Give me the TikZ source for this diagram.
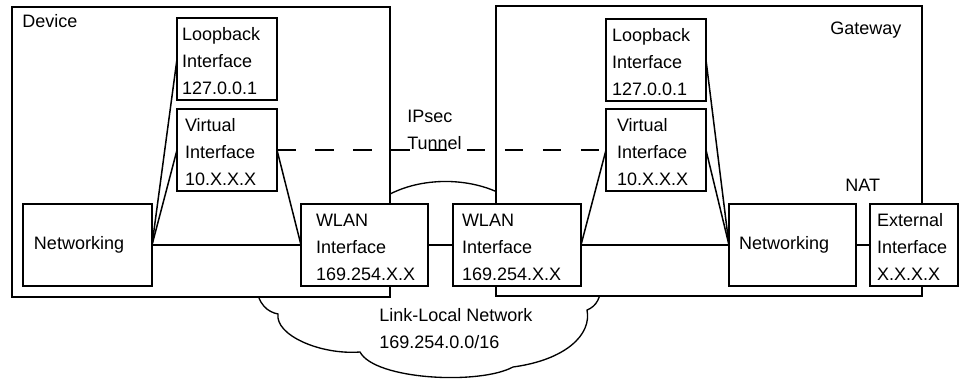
\documentclass[tikz,border=0pt]{standalone}
\usepackage{fontspec}
\setmainfont{Liberation Sans}
\usepackage{tikz}
\tikzstyle{zone}      = [rectangle, draw, fill=white, line width=1.2pt, anchor=north west, inner sep=0pt, outer sep=0pt]
\tikzstyle{iface}     = [rectangle, draw, fill=white, line width=1.2pt, anchor=north west, align=left, inner ysep=0pt, outer sep=0pt, text height=13.2pt, text depth=36pt]
\tikzstyle{single}    = [text height=27pt, text depth=22.2pt]
\tikzstyle{tag}       = [inner sep=0pt, anchor=base west]
\tikzstyle{link}      = [draw, line width=0.9pt]
\tikzstyle{tunnel}    = [draw, line width=1pt, dash pattern=on 11.1pt off 11.7pt]
\tikzstyle{cloudline} = [draw, fill=white, line width=0.8pt]

\begin{document}
\begin{tikzpicture}[x=0.6pt, y=-0.6pt, every node/.style={font=\fontsize{10.8}{16.2}\selectfont}]

    \useasboundingbox (0,0) rectangle (959,381);

    \path[cloudline] (380,200) -- (256,285)
        .. controls (258,305) and (268,312) .. (278,314)
        .. controls (275,335) and (320,355) .. (360,352)
        .. controls (375,380) and (480,385) .. (513,367)
        .. controls (565,360) and (592,335) .. (587,310)
        .. controls (597,306) and (600,298) .. (602,285)
        -- (505,196) .. controls (470,176) and (415,176) .. (380,200) -- cycle;

    \node[zone, minimum width=226.8pt, minimum height=174pt] (dev) at (12,7) {};
    \node[zone, minimum width=255.6pt, minimum height=174pt] (gw)  at (496,6) {};

    \node[tag] (devname) at (22,27)   {Device};
    \node[tag] (gwname)  at (830,34)  {Gateway};
    \node[tag] (natname) at (845,191) {NAT};

    \node[iface, text width=54pt,   inner xsep=3pt]   (lo1)   at (177,18)  {Loopback\\Interface\\127.0.0.1};
    \node[iface, text width=50.4pt, inner xsep=4.8pt] (vi1)   at (177,109) {Virtual\\Interface\\10.X.X.X};
    \node[iface, single, text width=64.2pt, inner xsep=6.6pt] (net1) at (23,204) {Networking};
    \node[iface, text width=58.2pt, inner xsep=9pt]   (wlan1) at (301,204) {WLAN\\Interface\\169.254.X.X};

    \node[iface, text width=66pt,   inner xsep=5.4pt] (wlan2) at (453,204) {WLAN\\Interface\\169.254.X.X};
    \node[iface, text width=52.8pt, inner xsep=3.6pt] (lo2)   at (606,19)  {Loopback\\Interface\\127.0.0.1};
    \node[iface, text width=46.8pt, inner xsep=6.6pt] (vi2)   at (606,109) {Virtual\\Interface\\10.X.X.X};
    \node[iface, single, text width=64.2pt, inner xsep=6pt] (net2) at (729,204) {Networking};
    \node[iface, text width=44.4pt, inner xsep=4.2pt] (ext2)  at (870,204) {External\\Interface\\X.X.X.X};

    \path[link] (net1.east)  -- (lo1.west);
    \path[link] (net1.east)  -- (vi1.west);
    \path[link] (net1.east)  -- (wlan1.west);
    \path[link] (vi1.east)   -- (wlan1.west);
    \path[link] (wlan1.east) -- (wlan2.west);
    \path[link] (wlan2.east) -- (vi2.west);
    \path[link] (wlan2.east) -- (net2.west);
    \path[link] (lo2.east)   -- (net2.west);
    \path[link] (vi2.east)   -- (net2.west);
    \path[link] (net2.east)  -- (ext2.west);

    \path[tunnel] (vi1.east) -- (vi2.west);

    \node[tag, anchor=north west, align=left] (ipsec) at (407,110) {IPsec\\Tunnel};
    \node[tag, anchor=north west, align=left] (llnet) at (379,308) {Link-Local Network\\169.254.0.0/16};

\end{tikzpicture}
\end{document}
